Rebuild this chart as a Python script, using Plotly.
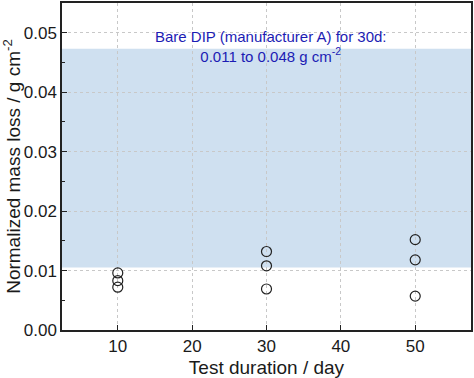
import plotly.graph_objects as go

days = [10, 10, 10, 30, 30, 30, 50, 50, 50]
mass_loss = [0.0096, 0.0083, 0.0072, 0.0132, 0.0108, 0.0069, 0.0152, 0.0118, 0.0057]
band_low = 0.0105
band_high = 0.0473
x_ticks = [10, 20, 30, 40, 50]
y_ticks = [0.00, 0.01, 0.02, 0.03, 0.04, 0.05]
y_tick_labels = ["0.00", "0.01", "0.02", "0.03", "0.04", "0.05"]

FONT = "Liberation Sans"

fig = go.Figure()
fig.add_shape(type="rect", xref="paper", yref="y", x0=0, x1=1, y0=band_low, y1=band_high,
              fillcolor="#cfe0f0", line=dict(width=0), layer="below")
fig.add_trace(go.Scatter(x=days, y=mass_loss, mode="markers",
                         marker=dict(symbol="circle-open", size=10, color="#222",
                                     line=dict(width=1.2, color="#222")),
                         showlegend=False, hoverinfo="skip"))
fig.add_annotation(xref="paper", yref="y", x=0.51, y=0.0512,
                   text="Bare DIP (manufacturer A) for 30d:<br>0.011 to 0.048 g cm<sup>-2</sup>",
                   showarrow=False, font=dict(family=FONT, size=15, color="#1c1cb4"),
                   xanchor="center", yanchor="top", align="center")

axis_common = dict(showline=True, linecolor="#222", linewidth=1.5, mirror=True,
                   ticks="inside", tickcolor="#222", ticklen=5,
                   showgrid=True, gridcolor="#c8c8c8", griddash="dot", gridwidth=1,
                   zeroline=False,
                   tickfont=dict(family=FONT, size=17, color="#1a1a1a"))
fig.update_xaxes(range=[2.5, 57.5], tickvals=x_ticks,
                 title=dict(text="Test duration / day", font=dict(family=FONT, size=19, color="#1a1a1a"), standoff=7),
                 **axis_common)
fig.update_yaxes(range=[0, 0.055], tickvals=y_ticks, ticktext=y_tick_labels,
                 minor=dict(ticks="inside", ticklen=3, tickcolor="#222", dtick=0.005, showgrid=False),
                 title=dict(text="Normalized mass loss / g cm<sup>-2</sup>", font=dict(family=FONT, size=19, color="#1a1a1a"), standoff=4),
                 **axis_common)
fig.update_layout(width=474, height=378, margin=dict(l=62, r=2, t=1, b=48),
                  plot_bgcolor="white", paper_bgcolor="white")
fig.write_html("out.html", config={"displayModeBar": False})

with open("out.html", "r", encoding="utf-8") as f:
    html = f.read()
html = html.replace("<body>", "<body style=\"margin:0;padding:0;overflow:hidden\">", 1)
with open("out.html", "w", encoding="utf-8") as f:
    f.write(html)
